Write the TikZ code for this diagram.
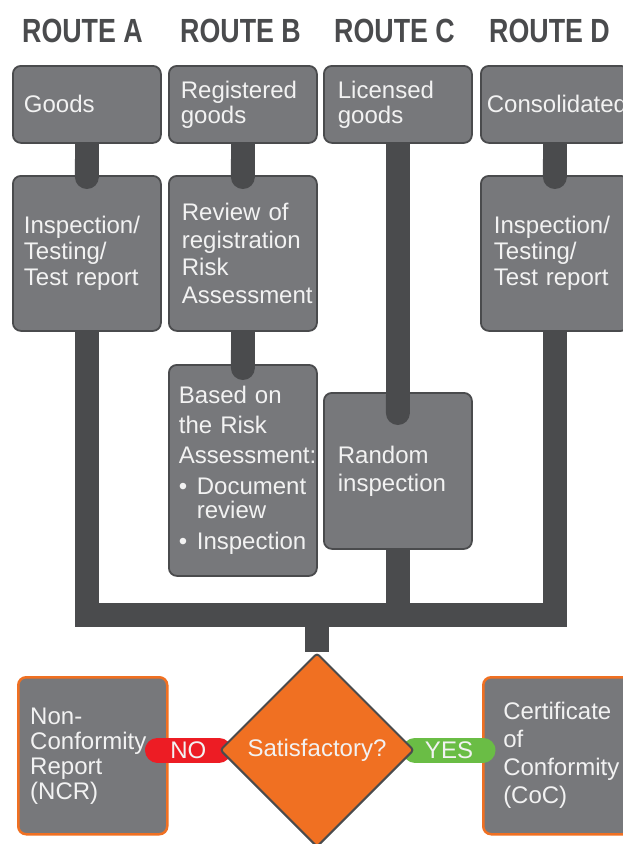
\documentclass[tikz,border=0pt]{standalone}
\usepackage{fontspec}
\setmainfont{Liberation Sans}
\newfontfamily\routefont[FakeStretch=0.8]{Liberation Sans Bold}
\usetikzlibrary{shapes.geometric, arrows.meta}
\hyphenpenalty=10000
\exhyphenpenalty=10000

\definecolor{boxgray}{HTML}{77787B}
\definecolor{bardark}{HTML}{4A4B4D}
\definecolor{satorange}{HTML}{F07022}
\definecolor{nored}{HTML}{ED1C24}
\definecolor{yesgreen}{HTML}{6ABD45}
\definecolor{boxtext}{HTML}{F2F2F2}

\pgfdeclarelayer{front}
\pgfsetlayers{main,front}

\tikzset{
  routetitle/.style={anchor=base, inner sep=0pt, text=bardark,
    font=\routefont\fontsize{33.5}{36}\selectfont},
  routebox/.style={draw=bardark, line width=1.8pt, fill=boxgray,
    rounded corners=8pt, text=boxtext, align=left, anchor=north west,
    minimum width=148pt, inner ysep=0pt,
    font=\fontsize{24}{26}\selectfont},
  resultbox/.style={routebox, draw=satorange, line width=2.5pt},
  decision/.style={diamond, draw=bardark, line width=2pt, fill=satorange,
    text=boxtext, minimum width=194pt, minimum height=194pt, inner sep=0pt,
    rounded corners=3pt, font=\fontsize{24}{26}\selectfont},
  bar/.style={draw=bardark, line width=24pt},
  nobar/.style={draw=nored, line width=25pt, line cap=round},
  yesbar/.style={draw=yesgreen, line width=25pt, line cap=round},
  barlabel/.style={text=boxtext, inner sep=0pt, font=\fontsize{24}{26}\selectfont}
}

\begin{document}
\begin{tikzpicture}[x=1pt, y=-1pt]
  \useasboundingbox (0,0) rectangle (622,844);

  % Route titles
  \node[routetitle] (titleA) at (82.5,42) {ROUTE A};
  \node[routetitle] (titleB) at (240.5,42) {ROUTE B};
  \node[routetitle] (titleC) at (394.5,42) {ROUTE C};
  \node[routetitle] (titleD) at (549.5,42) {ROUTE D};

  % First row
  \node[routebox, minimum height=77pt, inner xsep=11pt, text width=126pt] (goods) at (12,65) {Goods};
  \node[routebox, minimum height=77pt, inner xsep=12pt, text width=124pt,
        font=\fontsize{24}{25}\selectfont] (regB) at (168,65) {Registered\\goods};
  \node[routebox, minimum height=77pt, inner xsep=14pt, text width=120pt,
        font=\fontsize{24}{25}\selectfont] (licC) at (323,65) {Licensed\\goods};
  \node[routebox, minimum height=77pt, inner xsep=6pt, text width=136pt] (consD) at (480,65) {Consolidated};

  % Second row
  \node[routebox, minimum height=155pt, inner xsep=11pt, text width=126pt] (insA) at (12,175)
    {Inspection/\\Testing/\\Test report};
  \node[routebox, minimum height=155pt, inner xsep=13pt, text width=122pt,
        font=\fontsize{24}{27.7}\selectfont] (revB) at (168,175)
    {Review of\\registration\\Risk\\Assessment};
  \node[routebox, minimum height=155pt, inner xsep=13pt, text width=122pt] (insD) at (480,175)
    {Inspection/\\Testing/\\Test report};

  % Third row
  \node[routebox, minimum height=211pt, inner xsep=10pt, text width=128pt,
        font=\fontsize{24}{24}\selectfont] (basedB) at (168,364)
    {Based on\\[6pt]the Risk\\[6pt]Assessment:\\[7pt]\makebox[18pt][l]{\textbullet}Document\\
     \hspace*{18pt}review\\[7pt]\makebox[18pt][l]{\textbullet}Inspection};
  \node[routebox, minimum height=156pt, inner xsep=14pt, text width=120pt,
        font=\fontsize{24}{28}\selectfont] (randC) at (323,392) {Random\\inspection};

  % Results
  \node[resultbox, minimum height=157pt, minimum width=149pt, inner xsep=12pt, text width=125pt,
        font=\fontsize{24}{25}\selectfont] (ncr) at (17,676)
    {Non-\\Conformity\\Report\\(NCR)};
  \node[resultbox, minimum height=157pt, inner xsep=20pt, text width=108pt,
        font=\fontsize{24}{28}\selectfont] (coc) at (482,676)
    {Certificate\\of\\Conformity\\(CoC)};

  % Decision on top of everything
  \begin{pgfonlayer}{front}
    \node[decision] (sat) at (317,750) {Satisfactory?};
  \end{pgfonlayer}

  % Connectors between the boxes
  \draw[bar, -{Round Cap}] (goods.south) -- ([yshift=-14pt]insA.north);
  \draw[bar, -{Round Cap}] (regB.south) -- ([yshift=-14pt]revB.north);
  \draw[bar, -{Round Cap}] (revB.south) -- ([yshift=-16pt]basedB.north);
  \draw[bar, -{Round Cap}] (licC.south) -- ([yshift=-33pt]randC.north);
  \draw[bar, -{Round Cap}] (consD.south) -- ([yshift=-14pt]insD.north);

  % Collecting bar
  \coordinate (bus) at (317,615);
  \draw[bar] (insA.south) -- (insA.south |- bus) -- (insD.south |- bus) -- (insD.south);
  \draw[bar] (randC.south) -- (randC.south |- bus);
  \draw[bar] (bus) -- (sat.north);

  % No / yes
  \draw[nobar] ([xshift=-11pt]sat.west -| ncr.east) -- (sat.west)
    node[barlabel, midway] (no) {NO};
  \draw[yesbar] (sat.east) -- ([xshift=1pt]sat.east -| coc.west)
    node[barlabel, midway] (yes) {YES};

\end{tikzpicture}
\end{document}
